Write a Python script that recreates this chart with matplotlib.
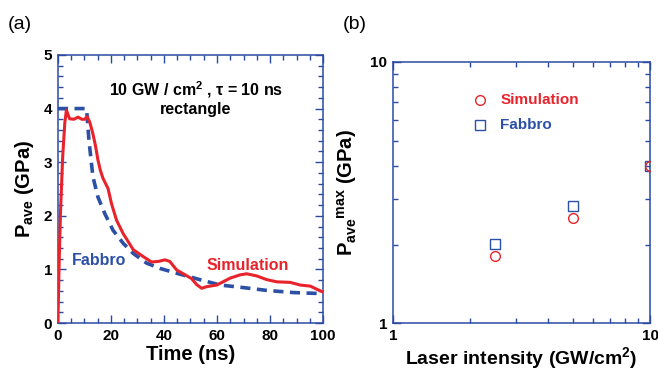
import matplotlib
matplotlib.use('Agg')
import matplotlib.pyplot as plt
from matplotlib.ticker import MultipleLocator, FixedLocator, LogLocator, NullFormatter

RED  = '#e8232b'
BLUE = '#2c50a6'
AXC  = '#2b4ba3'

plt.rcParams['font.family'] = ['Liberation Sans', 'DejaVu Sans']
plt.rcParams['font.weight'] = 'bold'
plt.rcParams['mathtext.fontset'] = 'custom'
plt.rcParams['mathtext.rm'] = 'Liberation Sans:bold'
plt.rcParams['mathtext.bf'] = 'Liberation Sans:bold'
plt.rcParams['mathtext.it'] = 'Liberation Sans:bold:italic'

# (a) pressure vs time
sim_t = [0, 0.5, 1.0, 1.8, 2.6, 3.2, 4.4, 6.0, 7.6, 9.0, 10.1, 11.0, 12.0, 13.2, 14.2, 15.1,
         16.0, 17.0, 18.9, 20.2, 22.1, 24.6, 28.4, 32.2, 35.3, 37.8, 40.4, 42.2, 44.8,
         47.3, 50.4, 52.3, 54.2, 56.1, 59.9, 65.0, 68.7, 71.2, 75.0, 78.8, 82.6, 87.6,
         91.4, 95.2, 97.7, 100]
sim_p = [0, 1.2, 2.1, 3.1, 3.73, 3.97, 3.81, 3.80, 3.84, 3.80, 3.80, 3.85, 3.75, 3.53, 3.30, 3.04,
         2.85, 2.70, 2.51, 2.23, 1.92, 1.67, 1.37, 1.24, 1.14, 1.15, 1.18, 1.15, 0.99,
         0.92, 0.83, 0.72, 0.65, 0.68, 0.71, 0.84, 0.90, 0.92, 0.88, 0.81, 0.77, 0.76,
         0.71, 0.69, 0.63, 0.58]

fab_t = [0, 10.8, 11.7, 13.2, 15.1, 17.7, 20.8, 24.6, 28.4, 33.4, 38.5, 44.8, 53.6,
         61.2, 68.7, 78.8, 88.9, 100]
fab_p = [4.0, 4.0, 3.41, 2.73, 2.35, 2.04, 1.73, 1.49, 1.30, 1.12, 1.02, 0.93, 0.81,
         0.71, 0.67, 0.61, 0.57, 0.55]

# (b) peak pressure vs intensity
intensity = [2.5, 5.0, 10.0]
sim_max   = [1.80, 2.52, 3.98]
fab_max   = [2.01, 2.82, 4.00]

fig = plt.figure(figsize=(6.58, 3.71), dpi=100)
ax1 = fig.add_axes([0.088, 0.129, 0.403, 0.723])
ax2 = fig.add_axes([0.597, 0.129, 0.391, 0.704])

for ax in (ax1, ax2):
  for sp in ax.spines.values():
    sp.set_color(AXC)
    sp.set_linewidth(1.1)
  ax.tick_params(which='both', direction='in', top=True, right=True, color=AXC,
                 labelsize=11, width=1.0, pad=4)
  ax.tick_params(which='major', length=6)
  ax.tick_params(which='minor', length=3.5)

ax1.plot(sim_t, sim_p, color=RED, lw=2.2, zorder=3)
ax1.plot(fab_t, fab_p, color=BLUE, lw=2.6, dashes=(2.8, 1.8), zorder=2)
ax1.set_xlim(0, 100)
ax1.set_ylim(0, 5)
ax1.xaxis.set_major_locator(MultipleLocator(20))
ax1.xaxis.set_minor_locator(MultipleLocator(5))
ax1.yaxis.set_major_locator(MultipleLocator(1))
ax1.yaxis.set_minor_locator(MultipleLocator(0.2))
ax1.set_xlabel('Time (ns)', fontsize=14.5, fontweight='bold', labelpad=2)
ax1.set_ylabel('P$_{\\rm ave}$ (GPa)', fontsize=14.5, fontweight='bold', labelpad=6)
ax1.text(52, 4.35, '10 GW / cm$^{\\rm 2}$ , τ = 10 ns', ha='center', va='center',
         fontsize=11.5, fontweight='bold')
ax1.text(52, 3.98, 'rectangle', ha='center', va='center', fontsize=11.5, fontweight='bold')
ax1.text(15.5, 1.17, 'Fabbro', color=BLUE, ha='center', va='center', fontsize=11.5,
         fontweight='bold')
ax1.text(71.5, 1.07, 'Simulation', color=RED, ha='center', va='center', fontsize=11.5,
         fontweight='bold')

ax2.set_xscale('log')
ax2.set_yscale('log')
ax2.set_xlim(1, 10)
ax2.set_ylim(1, 10)
ax2.plot(intensity, sim_max, 'o', mfc='none', mec=RED, ms=7, mew=1.0, zorder=3)
ax2.plot(intensity, fab_max, 's', mfc='none', mec=BLUE, ms=7, mew=1.0, zorder=2)
ax2.xaxis.set_major_locator(FixedLocator([1, 10]))
ax2.yaxis.set_major_locator(FixedLocator([1, 10]))
ax2.set_xticklabels(['1', '10'])
ax2.set_yticklabels(['1', '10'])
ax2.xaxis.set_minor_locator(LogLocator(base=10, subs=range(2, 10)))
ax2.yaxis.set_minor_locator(LogLocator(base=10, subs=range(2, 10)))
ax2.xaxis.set_minor_formatter(NullFormatter())
ax2.yaxis.set_minor_formatter(NullFormatter())
ax2.set_xlabel('Laser intensity (GW/cm$^{\\rm 2}$)', fontsize=14, fontweight='bold', labelpad=2)
ax2.set_ylabel('P$_{\\rm ave}$$^{\\rm max}$ (GPa)', fontsize=14.5, fontweight='bold', labelpad=8)

ax2.plot([2.18], [7.17], 'o', mfc='none', mec=RED, ms=7, mew=1.0)
ax2.plot([2.18], [5.75], 's', mfc='none', mec=BLUE, ms=7, mew=1.0)
ax2.text(2.62, 7.17, 'Simulation', color=RED, va='center', fontsize=11, fontweight='bold')
ax2.text(2.62, 5.75, 'Fabbro', color=BLUE, va='center', fontsize=11, fontweight='bold')

fig.text(0.012, 0.935, '(a)', fontsize=14, fontweight='normal', va='center')
fig.text(0.521, 0.935, '(b)', fontsize=14, fontweight='normal', va='center')

fig.savefig('out.png', dpi=100)
